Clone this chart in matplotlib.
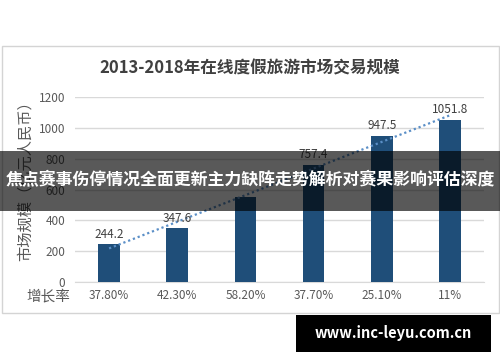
import numpy as np
import matplotlib
matplotlib.use("Agg")
import matplotlib.pyplot as plt
from matplotlib.patches import Rectangle

plt.rcParams['font.family'] = ['Noto Sans CJK SC', 'DejaVu Sans']

# datos
years = ["2013", "2014", "2015", "2016", "2017", "2018"]
values = [244.2, 347.6, 549.9, 757.4, 947.5, 1051.8]
growth = ["37.80%", "42.30%", "58.20%", "37.70%", "25.10%", "11%"]
yticks = [0, 200, 400, 600, 800, 1000, 1200]

title = "2013-2018年在线度假旅游市场交易规模"
ylabel = "市场规模（亿元人民币）"
banner = "焦点赛事伤停情况全面更新主力缺阵走势解析对赛果影响评估深度"
site = "www.inc-leyu.com.cn"

fig = plt.figure(figsize=(5, 3.62), dpi=100)

# marco del grafico
fig.patches.append(Rectangle((0.003, 0.135), 0.994, 0.738, transform=fig.transFigure,
                             fill=False, edgecolor="#d4d4d4", linewidth=1.0))

ax = fig.add_axes([0.15, 0.221, 0.818, 0.511])
x = np.arange(len(values))
ax.bar(x, values, width=0.32, color="#1f4e79", zorder=3)

# linea de tendencia
k, b = np.polyfit(x, values, 1)
ax.plot(x, k * x + b, linestyle=(0, (1, 1.3)), color="#5b8fc7", linewidth=1.6, zorder=4)

for xi, v in zip(x, values):
    if xi == 2:  # tapada por la franja en la imagen original
        continue
    ax.text(xi, v + 25, f"{v}", ha="center", va="bottom", fontsize=8.5, color="#404040", zorder=5)

ax.set_xlim(-0.5, 5.5)
ax.set_ylim(0, 1200)
ax.set_yticks(yticks)
ax.set_yticklabels([str(t) for t in yticks], fontsize=8.5, color="#595959")
ax.set_xticks([])
ax.grid(axis="y", color="#d9d9d9", linewidth=1.0, zorder=0)
for s in ["top", "right", "left"]:
    ax.spines[s].set_visible(False)
ax.spines["bottom"].set_color("#d9d9d9")
ax.tick_params(axis="y", length=0, pad=7)

for xi, g in zip(x, growth):
    ax.text(xi, -0.075, g, transform=ax.get_xaxis_transform(), ha="center", va="center",
            fontsize=8.5, color="#595959")
fig.text(0.096, 0.182, "增长率", ha="center", va="center", fontsize=10.5, color="#595959")

fig.text(0.05, 0.51, ylabel, rotation=90, ha="center", va="center", fontsize=11, color="#595959")
fig.text(0.5, 0.812, title, ha="center", va="center", fontsize=12, fontweight="bold", color="#404040")

# franja superpuesta
fig.patches.append(Rectangle((0, 0.417), 1, 0.166, transform=fig.transFigure,
                             facecolor="black", alpha=0.65, edgecolor="none", zorder=10))
fig.text(0.5, 0.502, banner, ha="center", va="center", fontsize=12.2, fontweight="bold",
         color="white", zorder=11)

# marca de agua
fig.patches.append(Rectangle((0.592, 0.028), 0.39, 0.102, transform=fig.transFigure,
                             facecolor="black", edgecolor="none", zorder=10))
fig.text(0.787, 0.079, site, ha="center", va="center", fontsize=10.5, fontweight="bold",
         color="white", zorder=11)

fig.savefig("out.png", dpi=100)
